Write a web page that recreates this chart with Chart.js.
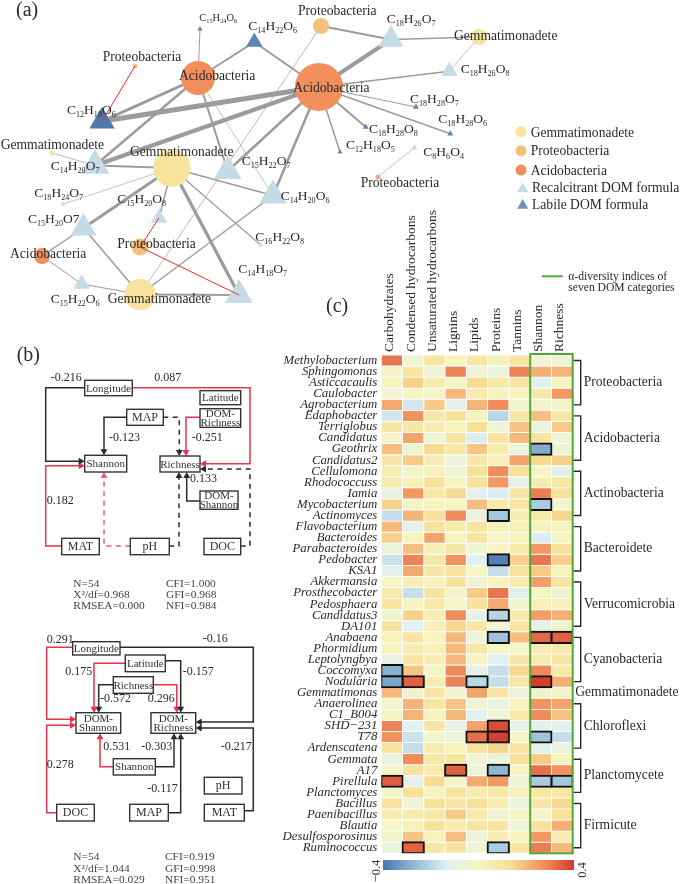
<!DOCTYPE html>
<html>
<head>
<meta charset="utf-8">
<title>DOM network, path models and heatmap</title>
<script src="https://cdn.jsdelivr.net/npm/chart.js@4/dist/chart.umd.min.js"></script>
<style>
  body { margin: 0; background: #fff; }
  canvas { position: absolute; }
</style>
</head>
<body>
<canvas id="heat" width="415" height="694" style="left:270px;top:190px"></canvas>
<canvas id="bar" width="191" height="10" style="left:383px;top:860px"></canvas>
<canvas id="page" width="685" height="884" style="left:0;top:0"></canvas>
<script>
// ---- heatmap data (c) ----
const columns = ['Carbohydrates', 'Condensed hydrocarbons', 'Unsaturated hydrocarbons', 'Lignins', 'Lipids', 'Proteins', 'Tannins', 'Shannon', 'Richness'];
const genera = ['Methylobacterium', 'Sphingomonas', 'Asticcacaulis', 'Caulobacter', 'Agrobacterium',
  'Edaphobacter', 'Terriglobus', 'Candidatus', 'Geothrix', 'Candidatus2',
  'Cellulomona', 'Rhodococcuss', 'Iamia', 'Mycobacterium', 'Actinomyces',
  'Flavobacterium', 'Bacteroides', 'Parabacteroides', 'Pedobacter', 'KSA1',
  'Akkermansia', 'Prosthecobacter', 'Pedosphaera', 'Candidatus3', 'DA101',
  'Anabaena', 'Phormidium', 'Leptolyngbya', 'Coccomyxa', 'Nodularia',
  'Gemmatimonas', 'Anaerolinea', 'C1_B004', 'SHD\u2212231', 'T78', 'Ardenscatena',
  'Gemmata', 'A17', 'Pirellula', 'Planctomyces',
  'Bacillus', 'Paenibacillus', 'Blautia', 'Desulfosporosinus', 'Ruminococcus'];
const correlations = [
  [0.31, -0.05, 0.10, 0.02, 0.08, 0.03, 0.10, -0.05, -0.05],
  [-0.02, 0.10, -0.06, 0.29, -0.06, -0.07, 0.29, 0.22, 0.21],
  [0.02, 0.16, 0.06, -0.02, 0.14, 0.08, 0.10, -0.13, 0.01],
  [-0.05, 0.01, -0.02, 0.20, 0.06, 0.02, 0.01, 0.08, 0.26],
  [0.23, -0.16, 0.17, -0.11, 0.21, 0.28, -0.03, -0.03, -0.02],
  [-0.16, 0.27, 0.08, 0.12, 0.02, -0.20, 0.09, 0.19, 0.08],
  [0.09, 0.08, 0.05, 0.02, 0.13, -0.05, 0.18, -0.07, 0.17],
  [-0.02, 0.24, -0.05, 0.10, -0.14, 0.10, 0.20, 0.10, -0.05],
  [0.19, -0.04, 0.14, 0.09, 0.18, 0.06, -0.07, -0.30, -0.04],
  [0.08, 0.17, 0.05, -0.06, 0.08, 0.04, 0.24, 0.14, 0.16],
  [0.05, -0.02, 0.03, -0.05, 0.12, 0.28, 0.13, -0.01, -0.11],
  [0.07, 0.03, 0.13, 0.00, 0.12, 0.26, -0.11, 0.05, 0.08],
  [-0.09, 0.26, 0.08, 0.14, -0.12, -0.14, 0.09, 0.30, 0.12],
  [0.16, -0.02, 0.02, 0.01, 0.19, 0.07, 0.10, -0.23, -0.03],
  [-0.18, 0.21, 0.12, 0.28, -0.09, -0.24, 0.05, 0.07, 0.15],
  [0.20, -0.11, 0.11, 0.06, 0.10, 0.03, 0.04, 0.03, 0.02],
  [0.16, 0.02, 0.24, 0.02, 0.10, -0.01, 0.02, -0.14, 0.01],
  [-0.06, 0.19, 0.03, 0.08, -0.04, 0.01, 0.07, 0.26, 0.12],
  [-0.17, 0.29, 0.09, 0.27, -0.13, -0.38, 0.16, 0.31, 0.16],
  [-0.11, 0.23, 0.08, 0.11, -0.01, -0.18, 0.11, 0.17, 0.02],
  [-0.01, 0.05, 0.03, 0.11, -0.04, 0.02, 0.06, 0.25, 0.10],
  [0.07, -0.18, 0.11, -0.02, 0.17, 0.31, -0.12, 0.01, -0.04],
  [0.10, 0.01, 0.07, -0.01, 0.12, 0.23, -0.03, 0.04, 0.03],
  [-0.04, 0.16, 0.05, 0.28, -0.09, -0.21, 0.07, 0.25, 0.22],
  [0.11, -0.13, 0.04, 0.15, 0.09, -0.05, 0.10, -0.11, -0.04],
  [0.02, 0.10, 0.02, 0.20, -0.06, -0.25, 0.19, 0.33, 0.34],
  [0.02, 0.05, 0.04, 0.20, 0.08, -0.01, -0.01, 0.05, 0.07],
  [-0.09, 0.09, 0.05, 0.20, 0.01, -0.13, 0.08, 0.05, 0.09],
  [-0.29, 0.18, -0.02, 0.28, -0.10, -0.18, 0.15, 0.28, 0.08],
  [-0.31, 0.34, 0.05, 0.29, -0.20, -0.18, 0.09, 0.39, 0.22],
  [0.20, -0.04, 0.09, -0.05, 0.24, 0.10, -0.06, -0.04, -0.02],
  [-0.03, 0.21, 0.10, 0.18, -0.05, -0.09, 0.02, 0.27, 0.24],
  [-0.02, 0.21, 0.01, 0.20, -0.13, -0.05, 0.07, 0.28, 0.18],
  [0.29, -0.12, 0.10, -0.09, 0.24, 0.37, -0.10, -0.12, -0.11],
  [0.27, -0.17, -0.02, -0.07, 0.32, 0.39, -0.01, -0.25, -0.18],
  [0.11, -0.18, 0.06, 0.02, 0.11, 0.15, 0.10, -0.11, -0.08],
  [-0.08, 0.28, 0.08, 0.10, -0.05, -0.07, 0.12, 0.17, 0.01],
  [-0.02, 0.11, 0.07, 0.34, -0.06, -0.28, 0.01, 0.32, 0.27],
  [0.35, -0.11, 0.14, -0.02, 0.23, 0.26, -0.05, -0.23, -0.24],
  [-0.01, 0.13, 0.02, 0.11, 0.06, 0.08, 0.03, 0.09, 0.09],
  [0.11, -0.05, 0.13, 0.08, 0.12, 0.06, -0.07, 0.08, 0.14],
  [0.05, 0.07, 0.08, 0.17, 0.07, -0.04, 0.01, -0.02, 0.12],
  [-0.01, 0.03, 0.12, 0.06, 0.10, 0.10, -0.05, 0.11, 0.22],
  [-0.02, 0.18, 0.02, 0.19, -0.06, 0.05, 0.01, 0.26, 0.05],
  [-0.07, 0.34, 0.09, 0.11, -0.05, -0.23, 0.09, 0.30, 0.20]
];
// significant cells, [row, column]
const significant = [[8, 7], [13, 7], [14, 5], [18, 5], [23, 5], [25, 5], [25, 7], [25, 8], [28, 0], [29, 0], [29, 1], [29, 4], [29, 7],
  [33, 5], [34, 4], [34, 5], [34, 7], [37, 3], [37, 5], [38, 0], [38, 7], [38, 8], [44, 1], [44, 5]];
const phyla = ['Proteobacteria', 'Acidobacteria', 'Actinobacteria', 'Bacteroidete', 'Verrucomicrobia', 'Cyanobacteria', 'Gemmatimonadete', 'Chloroflexi', 'Planctomycete', 'Firmicute'];
const phylumFirst = [0, 5, 10, 15, 20, 25, 30, 31, 36, 40];
const phylumLast = [4, 9, 14, 19, 24, 29, 30, 35, 39, 44];

// ---- network data (a) ----
// kind: G, P, A, S = bacteria circles, R = recalcitrant, L = labile
const nodeNames = ['AcidoBig', 'AcidoMid', 'GemmaMid', 'GemmaLow', 'AcidoSmall', 'ProteoMid', 'ProteoTop', 'ProteoTiny', 'GemmaTiny', 'GemmaRight', 'ProteoLow',
  'C12H18O6', 'C14H22O6', 'C15H24O6', 'C14H20O7', 'C15H22O7', 'C14H20O6', 'C18H24O7', 'C15H20O8', 'C15H20O7', 'C15H22O6', 'C16H22O8', 'C14H18O7',
  'C12H18O5', 'C18H28O8', 'C18H28O7', 'C18H28O6', 'C8H6O4', 'C18H26O7', 'C18H26O8'];
const nodeKinds = ['A', 'A', 'G', 'G', 'A', 'P', 'P', 'P', 'G', 'G', 'S',
  'D', 'L', 'L', 'R', 'R', 'R', 'R', 'R', 'R', 'R', 'R', 'R',
  'L', 'L', 'L', 'L', 'R', 'R', 'R'];
const nodeX = [319, 198, 172, 140, 42, 140, 321, 135, 52, 479, 378,
  102, 254.3, 200, 95, 227.7, 273, 63, 159, 83.5, 81.7, 260.7, 239,
  340, 365.7, 416, 450.3, 414.3, 391, 449.3];
const nodeY = [87, 78, 168, 294.5, 256, 247, 26, 66, 153, 37, 177,
  121.3, 42, 29, 165.5, 171, 195.5, 204, 218, 228, 284, 245, 295,
  152, 127, 107, 133.7, 147.7, 39.5, 71.3];
const nodeSize = [24, 17, 18.7, 15.5, 8, 8.5, 8, 2.5, 2.5, 8, 2.5,
  14.6, 9.6, 3, 16.5, 16, 16, 3, 9.5, 15, 9.6, 3, 16,
  3, 3.5, 3.5, 3.5, 3.5, 14.5, 9.6];
const edgeFrom = ['AcidoBig', 'AcidoBig', 'AcidoBig', 'ProteoTop', 'GemmaRight', 'GemmaRight', 'AcidoBig', 'AcidoBig', 'AcidoBig', 'AcidoBig', 'AcidoBig', 'AcidoBig', 'AcidoBig', 'AcidoBig',
  'AcidoMid', 'AcidoMid', 'AcidoMid', 'AcidoMid', 'AcidoMid', 'AcidoMid', 'GemmaTiny', 'GemmaMid', 'GemmaMid', 'GemmaMid', 'GemmaMid', 'GemmaMid', 'GemmaMid', 'GemmaMid',
  'AcidoSmall', 'AcidoSmall', 'GemmaLow', 'GemmaLow', 'GemmaLow', 'GemmaLow', 'GemmaLow', 'ProteoLow'];
const edgeTo = ['C12H18O6', 'C14H20O7', 'C18H26O7', 'C18H26O7', 'C18H26O7', 'C18H26O8', 'C18H26O8', 'C18H28O7', 'C18H28O6', 'C18H28O8', 'C12H18O5', 'C14H22O6', 'C15H22O7', 'C14H20O6',
  'C14H22O6', 'C15H24O6', 'C12H18O6', 'C14H20O7', 'C15H22O7', 'C14H20O6', 'C14H20O7', 'C14H20O7', 'C14H20O6', 'C18H24O7', 'C15H20O7', 'C15H20O8', 'C16H22O8', 'C14H18O7',
  'C15H20O7', 'C15H22O6', 'C15H20O7', 'C15H22O6', 'C14H20O6', 'C14H18O7', 'ProteoTop', 'C8H6O4'];
const edgeWeight = [5, 4.5, 4, 2, 1.3, 0.6, 1.5, 1, 1.5, 2, 1.5, 2, 2.5, 2.5,
  2, 1, 3, 2.5, 2, 0.6, 0.7, 2, 1.5, 0.6, 3, 1.5, 1.3, 3.3,
  1.5, 1, 1.5, 1, 1.5, 2, 0.7, 0.6];
const redFrom = ['ProteoTiny', 'ProteoMid', 'ProteoMid'];
const redTo = ['C12H18O6', 'C15H20O8', 'C14H18O7'];

// network text: text, left, baseline, size  (_n = subscript)
const netLabels = [
  ['Proteobacteria', 298, 15, 13.6], ['C_15H_24O_6', 199.3, 21, 10.5], ['C_14H_22O_6', 248.3, 30, 13.5],
  ['C_12H_18O_6', 67, 114, 13.5], ['Proteobacteria', 102.7, 61.3, 13.6], ['Acidobacteria', 179, 80, 13.6],
  ['Acidobacteria', 293.3, 92.3, 13.6], ['Gemmatimonadete', 0.7, 149.3, 13.6], ['Gemmatimonadete', 130, 156, 13.6],
  ['C_14H_20O_7', 50.7, 170, 13.5], ['C_15H_22O_7', 241.7, 165, 13.5], ['C_14H_20O_6', 280.7, 200, 13.5],
  ['C_18H_24O_7', 34.3, 196.7, 13.5], ['C_15H_20O_8', 117.3, 203.3, 13.5], ['C_15H_20O7', 28, 223.3, 13.5],
  ['C_16H_22O_8', 255.3, 240.7, 13.5], ['Proteobacteria', 117.3, 248.3, 13.6], ['Acidobacteria', 10, 258.3, 13.6],
  ['C_14H_18O_7', 238.3, 273.3, 13.5], ['C_15H_22O_6', 50.7, 302.7, 13.5], ['Gemmatimonadete', 107.7, 302.7, 13.6],
  ['C_18H_26O_7', 386.7, 23.3, 13.5], ['Gemmatimonadete', 454, 40, 13.6], ['C_18H_26O_8', 460.7, 73.3, 13.5],
  ['C_18H_28O_7', 410, 103.3, 13.5], ['C_18H_28O_6', 438.3, 123.3, 13.5], ['C_18H_28O_8', 369, 132.7, 13.5],
  ['C_12H_18O_5', 346, 149.3, 13.5], ['C_8H_6O_4', 423.3, 155.7, 13.5], ['Proteobacteria', 360.7, 186.7, 13.6]
];

// legend
const legendNames = ['Gemmatimonadete', 'Proteobacteria', 'Acidobacteria', 'Recalcitrant DOM formula', 'Labile DOM formula'];
const legendKinds = ['G', 'P', 'A', 'R', 'M'];

// ---- path models (b) ----
const pathBoxes = [
  ['Longitude', 84.7, 380.3, 132.3, 395.7], ['Latitude', 200, 390.7, 240.7, 404.7], ['MAP', 126.7, 409.3, 163.3, 425.3],
  ['DOM-\nRichness', 200, 408.7, 240.7, 427.3], ['Shannon', 84.7, 455.3, 126.7, 472], ['Richness', 160, 456, 200, 472],
  ['DOM-\nShannon', 200, 491, 238, 509.3], ['MAT', 61.7, 538.3, 99.3, 554.7], ['pH', 130.3, 538.3, 169.3, 554.7], ['DOC', 204, 538.3, 240.7, 554.7],
  ['Longitude', 72.7, 641.7, 120, 655], ['Latitude', 125.3, 655, 165.3, 671.7], ['Richness', 113.3, 676.7, 153.3, 693.3],
  ['DOM-\nShannon', 76, 712.7, 120.7, 733.3], ['DOM-\nRichness', 151, 712.7, 195.7, 733.3], ['Shannon', 113.3, 758.7, 155.3, 775],
  ['pH', 204.3, 777.3, 242, 794], ['DOC', 56.7, 804.3, 94.3, 821], ['MAP', 129.7, 804.3, 168.3, 821], ['MAT', 204.3, 804.3, 244.3, 821]
];
// polyline, colour k=black r=red, dashed
const pathLinks = [
  [[[84.7, 387.7], [45.7, 387.7], [45.7, 461.3], [80.7, 461.3]], 'k', false],
  [[[132.3, 387.7], [250, 387.7], [250, 463.7], [204, 463.7]], 'r', false],
  [[[126.7, 417.3], [104, 417.3], [104, 451.3]], 'k', false],
  [[[163.3, 417.3], [179.3, 417.3], [179.3, 452]], 'k', true],
  [[[200, 417.3], [186, 417.3], [186, 452]], 'r', false],
  [[[240.7, 546], [250, 546], [250, 469], [204, 469]], 'k', true],
  [[[169.3, 546], [179, 546], [179, 476]], 'k', true],
  [[[200, 501], [186.7, 501], [186.7, 476]], 'k', false],
  [[[61.7, 546], [45.7, 546], [45.7, 465.7], [80.7, 465.7]], 'r', false],
  [[[130.3, 546], [104, 546], [104, 476]], 'r', true],
  [[[72.7, 647.3], [46.7, 647.3], [46.7, 719.3], [72, 719.3]], 'r', false],
  [[[56.7, 812.7], [46.7, 812.7], [46.7, 725.3], [72, 725.3]], 'r', false],
  [[[125.3, 663.3], [94, 663.3], [94, 708.7]], 'r', false],
  [[[165.3, 660.7], [180.7, 660.7], [180.7, 708.7]], 'k', false],
  [[[113.3, 684.7], [98.7, 684.7], [98.7, 708.7]], 'k', false],
  [[[153.3, 684.7], [176.7, 684.7], [176.7, 708.7]], 'r', false],
  [[[120, 647.3], [253.3, 647.3], [253.3, 722], [199.7, 722]], 'k', false],
  [[[244.3, 810.7], [253.3, 810.7], [253.3, 728], [199.7, 728]], 'k', false],
  [[[113.3, 766.7], [100, 766.7], [100, 737.3]], 'r', false],
  [[[155.3, 766.7], [174, 766.7], [174, 737.3]], 'k', false],
  [[[168.3, 812.7], [180.7, 812.7], [180.7, 737.3]], 'k', false]
];
const pathLabels = [
  ['-0.216', 50.7, 380.7], ['0.087', 154.3, 380.7], ['-0.123', 109, 441.3], ['-0.251', 191.7, 441.3], ['0.133', 190, 481.7], ['0.182', 46.7, 504.3],
  ['0.291', 46.7, 643.3], ['-0.16', 202.7, 641.7], ['0.175', 65.3, 675], ['-0.157', 182.7, 675], ['-0.572', 100, 702.3], ['0.296', 147.7, 702.3],
  ['0.531', 103.3, 750], ['-0.303', 141.3, 750], ['-0.217', 220.7, 750], ['0.278', 46.7, 767.7], ['-0.117', 147.3, 792.3]
];
const fitLabels = [
  ['N=54', 73.3, 586.7], ['CFI=1.000', 166, 586.7], ['X\u00b2/df=0.968', 73.3, 597.7], ['GFI=0.968', 166, 597.7], ['RMSEA=0.000', 73.3, 609.3], ['NFI=0.984', 166, 609.3],
  ['N=54', 73.3, 860], ['CFI=0.919', 165, 860], ['X\u00b2/df=1.044', 73.3, 871.7], ['GFI=0.998', 165, 871.7], ['RMSEA=0.029', 73.3, 882.7], ['NFI=0.951', 165, 882.7]
];

const FONT = '"Liberation Serif", serif';
const INK = '#2a2a2a';
const GREEN = '#4fa93a';
const kindColors = { A: '#f28f5c', G: '#f7e39b', P: '#f4c07c', S: '#f2a585', R: '#c5dbe6', L: '#5f85b4', D: '#4f78ac', M: '#6f93bf' };

// diverging colour ramp for -0.4..0.4
const rampStops = ['#4a74ae', '#94bdd8', '#e0f0f2', '#f6f6c2', '#f8df96', '#f39460', '#d2392b'];
function hexToRgb(h) {
  return [1, 3, 5].map(i => parseInt(h.slice(i, i + 2), 16));
}
function rampColor(v) {
  const t = Math.max(0, Math.min(1, (v + 0.4) / 0.8)) * (rampStops.length - 1);
  const i = Math.min(Math.floor(t), rampStops.length - 2);
  const a = hexToRgb(rampStops[i]);
  const b = hexToRgb(rampStops[i + 1]);
  const c = a.map((x, k) => Math.round(x + (b[k] - x) * (t - i)));
  return `rgb(${c[0]},${c[1]},${c[2]})`;
}

// ---- heatmap chart ----
const cellSets = genera.map((g, r) => ({
  label: g,
  data: columns.map(() => [r - 0.5, r + 0.5]),
  backgroundColor: correlations[r].map(rampColor),
  borderColor: '#fff',
  borderWidth: 0.8,
  borderSkipped: false
}));
// black outlined cells go first so they sit on top
const sigSets = significant.map(([r, c]) => ({
  label: genera[r] + ' *',
  data: columns.map((n, i) => (i === c ? [r - 0.5, r + 0.5] : null)),
  backgroundColor: rampColor(correlations[r][c]),
  borderColor: '#111',
  borderWidth: 2,
  borderSkipped: false,
  inflateAmount: 1
}));

const groupPlugin = {
  id: 'groups',
  afterDatasetsDraw(chart) {
    const { ctx, scales: { x, y } } = chart;
    const left = x.getPixelForValue(7) - x.width / 18;
    const right = x.right;
    ctx.save();
    ctx.strokeStyle = GREEN;
    ctx.lineWidth = 2;
    ctx.strokeRect(left, y.top - 1, right - left, y.bottom - y.top + 1);
    ctx.strokeStyle = INK;
    ctx.lineWidth = 1.4;
    ctx.fillStyle = INK;
    ctx.textBaseline = 'middle';
    ctx.font = '13.6px ' + FONT;
    phyla.forEach((name, i) => {
      const a = y.getPixelForValue(phylumFirst[i]);
      const b = y.getPixelForValue(phylumLast[i]);
      if (phylumFirst[i] === phylumLast[i]) {
        ctx.fillText(name, right + 2.5, a);
        return;
      }
      ctx.beginPath();
      ctx.moveTo(right + 1, a);
      ctx.lineTo(right + 8, a);
      ctx.lineTo(right + 8, b);
      ctx.lineTo(right + 1, b);
      ctx.stroke();
      ctx.fillText(name, right + 11, (a + b) / 2);
    });
    ctx.restore();
  }
};

new Chart(document.getElementById('heat'), {
  type: 'bar',
  data: { labels: columns, datasets: sigSets.concat(cellSets) },
  plugins: [groupPlugin],
  options: {
    responsive: false,
    animation: false,
    devicePixelRatio: 1,
    layout: { autoPadding: false, padding: { right: 112.3, bottom: 30.7 } },
    plugins: { legend: { display: false }, tooltip: { enabled: false } },
    datasets: { bar: { grouped: false, barPercentage: 1, categoryPercentage: 1 } },
    scales: {
      x: {
        position: 'top',
        grid: { display: false, drawTicks: false },
        border: { display: false },
        afterFit: s => { s.height = 165; },
        ticks: { minRotation: 90, maxRotation: 90, autoSkip: false, padding: 3, labelOffset: 14, color: INK, font: { family: FONT, size: 13.5 } }
      },
      y: {
        reverse: true,
        min: -0.5,
        max: 44.5,
        grid: { display: false, drawTicks: false },
        border: { display: false },
        afterFit: s => { s.width = 111.3; },
        afterBuildTicks: s => { s.ticks = genera.map((g, i) => ({ value: i })); },
        ticks: { autoSkip: false, padding: 4, color: INK, callback: v => genera[v], font: { family: FONT, size: 12.8, style: 'italic' } }
      }
    }
  }
});

// ---- colour bar ----
const barCtx = document.getElementById('bar').getContext('2d');
const barGradient = barCtx.createLinearGradient(0, 0, 191, 0);
rampStops.forEach((c, i) => barGradient.addColorStop(i / (rampStops.length - 1), c));
new Chart(barCtx, {
  type: 'bar',
  data: { labels: ['r'], datasets: [{ data: [[-0.4, 0.4]], backgroundColor: barGradient, barPercentage: 1, categoryPercentage: 1 }] },
  options: {
    indexAxis: 'y',
    responsive: false,
    animation: false,
    devicePixelRatio: 1,
    layout: { autoPadding: false },
    plugins: { legend: { display: false }, tooltip: { enabled: false } },
    scales: { x: { display: false, min: -0.4, max: 0.4 }, y: { display: false } }
  }
});

// ---- page chart: network, path diagrams, legend ----
function nodePoint(name) {
  const i = nodeNames.indexOf(name);
  return { x: nodeX[i], y: nodeY[i] };
}
const isTriangle = k => k === 'R' || k === 'L' || k === 'D' || k === 'M';

const redSets = redFrom.map((f, i) => ({
  data: [nodePoint(f), nodePoint(redTo[i])],
  showLine: true, borderColor: '#ee2a2a', borderWidth: 1, pointRadius: 0
}));
const nodeSet = {
  data: nodeNames.map(n => nodePoint(n)),
  backgroundColor: nodeKinds.map(k => kindColors[k]),
  pointStyle: nodeKinds.map(k => (isTriangle(k) ? 'triangle' : 'circle')),
  pointRadius: nodeSize,
  borderWidth: 0
};
const legendRowY = [131.7, 150.7, 170, 189, 205.5];
const legendSet = {
  data: legendNames.map((n, i) => ({ x: isTriangle(legendKinds[i]) ? 522.7 : 521, y: legendRowY[i] })),
  backgroundColor: legendKinds.map(k => kindColors[k]),
  pointStyle: legendKinds.map(k => (isTriangle(k) ? 'triangle' : 'circle')),
  pointRadius: legendKinds.map(k => (isTriangle(k) ? 6.5 : 5.5)),
  borderWidth: 0
};
const edgeSets = edgeFrom.map((f, i) => ({
  data: [nodePoint(f), nodePoint(edgeTo[i])],
  showLine: true, borderColor: '#9c9c9c', borderWidth: edgeWeight[i], pointRadius: 0
}));
const linkSets = pathLinks.map(([pts, tone, dashed]) => {
  const last = pts[pts.length - 1];
  const prev = pts[pts.length - 2];
  const angle = Math.atan2(last[0] - prev[0], prev[1] - last[1]) * 180 / Math.PI;
  const color = tone === 'r' ? (dashed ? '#ea5c78' : '#e8324e') : '#2b2b2b';
  return {
    data: pts.map(p => ({ x: p[0], y: p[1] })),
    showLine: true,
    borderColor: color,
    backgroundColor: color,
    borderWidth: 1.5,
    borderDash: dashed ? [5, 4.5] : [],
    pointStyle: 'triangle',
    pointRotation: pts.map(() => angle),
    pointRadius: pts.map((p, i) => (i === pts.length - 1 ? 4 : 0)),
    pointBorderWidth: 0
  };
});
const keySet = {
  data: [{ x: 541.7, y: 276.3 }, { x: 562.7, y: 276.3 }],
  showLine: true, borderColor: GREEN, borderWidth: 2, pointRadius: 0
};

function drawFormula(ctx, text, x, y, size) {
  let cx = x;
  text.split(/(_\d+)/).forEach(part => {
    if (!part) return;
    const sub = part[0] === '_';
    const str = sub ? part.slice(1) : part;
    ctx.font = (sub ? size * 0.6 : size) + 'px ' + FONT;
    ctx.fillText(str, cx, sub ? y + size * 0.22 : y);
    cx += ctx.measureText(str).width;
  });
}

const textPlugin = {
  id: 'pageText',
  afterDatasetsDraw(chart) {
    const { ctx, scales: { x, y } } = chart;
    const px = v => x.getPixelForValue(v);
    const py = v => y.getPixelForValue(v);
    ctx.save();
    ctx.textBaseline = 'alphabetic';
    ctx.textAlign = 'left';

    // boxes of the path models
    pathBoxes.forEach(([name, x0, y0, x1, y1]) => {
      ctx.fillStyle = '#fff';
      ctx.fillRect(px(x0), py(y0), px(x1) - px(x0), py(y1) - py(y0));
      ctx.strokeStyle = '#333';
      ctx.lineWidth = 1.4;
      ctx.strokeRect(px(x0), py(y0), px(x1) - px(x0), py(y1) - py(y0));
      const lines = name.split('\n');
      const short = name.length <= 3 || name === 'pH';
      ctx.fillStyle = '#333';
      ctx.font = (short ? 12 : 11) + 'px ' + FONT;
      ctx.textAlign = 'center';
      const mid = (py(y0) + py(y1)) / 2;
      const step = 8.6;
      lines.forEach((line, i) => {
        ctx.fillText(line, (px(x0) + px(x1)) / 2, mid + 3.5 + (i - (lines.length - 1) / 2) * step);
      });
      ctx.textAlign = 'left';
    });

    ctx.fillStyle = INK;
    netLabels.forEach(([t, lx, ly, s]) => drawFormula(ctx, t, px(lx), py(ly), s));

    ctx.font = '20px ' + FONT;
    ctx.fillText('(a)', px(16), py(16));
    ctx.fillText('(b)', px(16.7), py(361));
    ctx.fillText('(c)', px(326), py(311.7));

    ctx.font = '12px ' + FONT;
    pathLabels.forEach(([t, lx, ly]) => ctx.fillText(t, px(lx), py(ly)));
    ctx.fillStyle = '#444';
    ctx.font = '11.4px ' + FONT;
    fitLabels.forEach(([t, lx, ly]) => ctx.fillText(t, px(lx), py(ly)));

    ctx.fillStyle = INK;
    ctx.font = '13.6px ' + FONT;
    const legendBase = [136.7, 155.3, 174.7, 191.7, 209];
    legendNames.forEach((n, i) => ctx.fillText(n, px(i < 3 ? 530.7 : 532), py(legendBase[i])));

    ctx.font = '11.6px ' + FONT;
    ctx.fillText('\u03b1-diversity indices of', px(568.3), py(280));
    ctx.fillText('seven DOM categories', px(568.3), py(291.3));

    // colour bar end labels
    ctx.font = '12.5px ' + FONT;
    ctx.textAlign = 'center';
    [['\u22120.4', 380, 871], ['0.4', 586, 870]].forEach(([t, lx, ly]) => {
      ctx.save();
      ctx.translate(px(lx), py(ly));
      ctx.rotate(-Math.PI / 2);
      ctx.fillText(t, 0, 0);
      ctx.restore();
    });
    ctx.restore();
  }
};

new Chart(document.getElementById('page'), {
  type: 'scatter',
  data: { datasets: [].concat(redSets, [nodeSet, legendSet], edgeSets, linkSets, [keySet]) },
  plugins: [textPlugin],
  options: {
    responsive: false,
    animation: false,
    devicePixelRatio: 1,
    layout: { autoPadding: false },
    plugins: { legend: { display: false }, tooltip: { enabled: false } },
    scales: {
      x: { type: 'linear', display: false, min: 0, max: 685 },
      y: { type: 'linear', display: false, min: 0, max: 884, reverse: true }
    }
  }
});
</script>
</body>
</html>
